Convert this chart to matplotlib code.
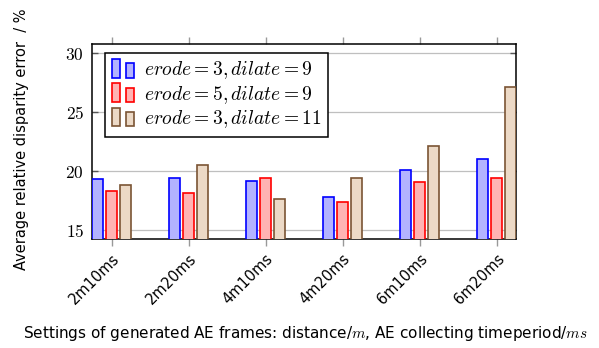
import numpy as np
import matplotlib
matplotlib.use('Agg')
import matplotlib.pyplot as plt
from matplotlib.patches import Rectangle
from matplotlib.legend_handler import HandlerBase

plt.rcParams['mathtext.fontset'] = 'cm'
plt.rcParams['font.family'] = ['DejaVu Sans']

# datos
settings = ['2m10ms', '2m20ms', '4m10ms', '4m20ms', '6m10ms', '6m20ms']
erode3_dilate9 = [19.30, 19.41, 19.20, 17.84, 20.06, 21.00]
erode5_dilate9 = [18.33, 18.14, 19.45, 17.36, 19.09, 19.38]
erode3_dilate11 = [18.84, 20.53, 17.67, 19.38, 22.12, 27.14]
series_labels = [r'$erode=3,dilate=9$', r'$erode=5,dilate=9$', r'$erode=3,dilate=11$']
yticks = [15, 20, 25, 30]

edge_colors = ['#0000ff', '#ff0000', '#7a5434']
face_colors = ['#b3b3ff', '#ffb3b3', '#ecd9c6']


class DoubleBar(HandlerBase):
    # pgfplots style: two little bars per legend entry
    def create_artists(self, legend, orig_handle, xdescent, ydescent,
                       width, height, fontsize, trans):
        w = width * 0.36
        r1 = Rectangle((-xdescent, -ydescent - 0.15 * height), w, height * 1.35,
                       facecolor=orig_handle.get_facecolor(),
                       edgecolor=orig_handle.get_edgecolor(), lw=1.2, transform=trans)
        r2 = Rectangle((-xdescent + width * 0.64, -ydescent - 0.15 * height), w, height * 1.05,
                       facecolor=orig_handle.get_facecolor(),
                       edgecolor=orig_handle.get_edgecolor(), lw=1.2, transform=trans)
        return [r1, r2]


fig = plt.figure(figsize=(5.99, 3.48), dpi=100)
ax = fig.add_axes([0.1541, 0.3124, 0.7073, 0.5612])

x = np.arange(len(settings))
ancho = 0.139
paso = 0.182
for i, vals in enumerate([erode3_dilate9, erode5_dilate9, erode3_dilate11]):
    ax.bar(x + (i - 1) * paso, np.array(vals) - 10, bottom=10, width=ancho,
           color=face_colors[i], edgecolor=edge_colors[i], linewidth=1.2, zorder=3)

ax.set_xlim(-paso - ancho / 2, len(settings) - 1 + paso + ancho / 2)
ax.set_ylim(14.21, 30.79)
ax.set_yticks(yticks)
ax.set_yticklabels([f'${v}$' for v in yticks], fontsize=12.5)
ax.set_xticks(x)
ax.set_xticklabels(settings, rotation=45, ha='right', rotation_mode='anchor', fontsize=10.5)
ax.yaxis.grid(True, color='#bfbfbf', lw=0.9, zorder=0)
ax.tick_params(axis='x', direction='out', length=5, color='#999999', top=True, width=1)
ax.tick_params(axis='y', direction='in', length=4, color='#555555', right=True, width=1, pad=6)
for s in ax.spines.values():
    s.set_linewidth(1.1)

ax.set_ylabel('Average relative disparity error  / %', fontsize=10.5)
ax.yaxis.set_label_coords(-0.15, 0.51)
fig.text(0.51, 0.043, r'Settings of generated AE frames: distance/$m$, AE collecting timeperiod/$ms$',
         ha='center', va='center', fontsize=11)

proxies = [Rectangle((0, 0), 1, 1, facecolor=face_colors[i], edgecolor=edge_colors[i]) for i in range(3)]
leg = ax.legend(proxies, series_labels, loc='upper left', bbox_to_anchor=(0.03, 0.955),
                fontsize=14, handler_map={Rectangle: DoubleBar()}, fancybox=False,
                framealpha=1, edgecolor='black', handlelength=1.15, handletextpad=0.5,
                borderpad=0.35, labelspacing=0.12, borderaxespad=0)
leg.get_frame().set_linewidth(1.1)
leg.set_zorder(5)

plt.savefig('out.png', dpi=100)
